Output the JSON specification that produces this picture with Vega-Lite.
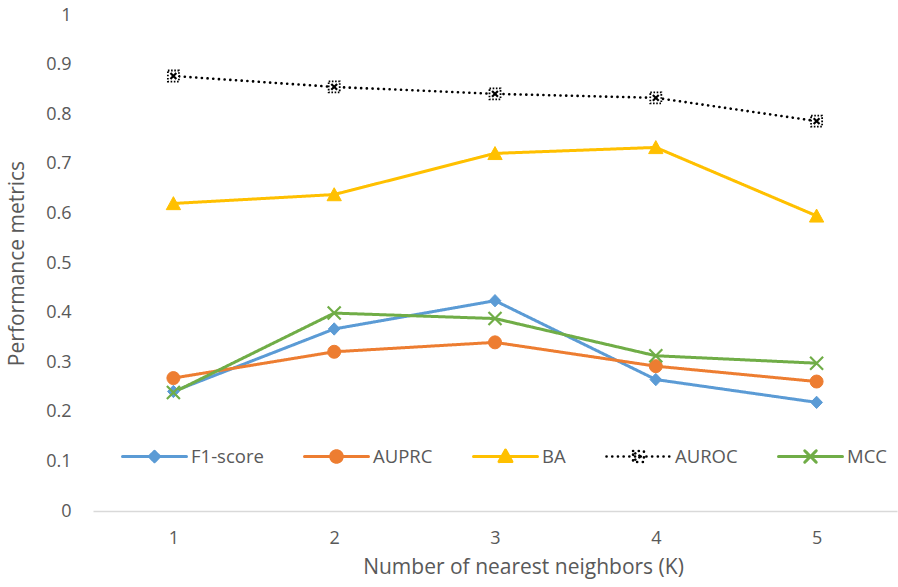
{
  "$schema": "https://vega.github.io/schema/vega-lite/v6.json",
  "width": 804,
  "height": 496,
  "autosize": {"type": "none"},
  "padding": {"left": 93, "top": 15, "right": 1, "bottom": 76},
  "background": "white",
  "config": {
    "view": {"stroke": null},
    "font": "Open Sans",
    "axis": {"labelColor": "#595959", "titleColor": "#595959", "labelFont": "Open Sans", "titleFont": "Open Sans", "grid": false, "ticks": false, "titleFontWeight": "normal"}
  },
  "data": {
    "values": [
      {"series": "F1-score", "k": "1", "value": 0.241},
      {"series": "F1-score", "k": "2", "value": 0.367},
      {"series": "F1-score", "k": "3", "value": 0.424},
      {"series": "F1-score", "k": "4", "value": 0.265},
      {"series": "F1-score", "k": "5", "value": 0.219},
      {"series": "AUPRC", "k": "1", "value": 0.268},
      {"series": "AUPRC", "k": "2", "value": 0.321},
      {"series": "AUPRC", "k": "3", "value": 0.340},
      {"series": "AUPRC", "k": "4", "value": 0.292},
      {"series": "AUPRC", "k": "5", "value": 0.261},
      {"series": "BA", "k": "1", "value": 0.620},
      {"series": "BA", "k": "2", "value": 0.638},
      {"series": "BA", "k": "3", "value": 0.721},
      {"series": "BA", "k": "4", "value": 0.733},
      {"series": "BA", "k": "5", "value": 0.595},
      {"series": "AUROC", "k": "1", "value": 0.877},
      {"series": "AUROC", "k": "2", "value": 0.855},
      {"series": "AUROC", "k": "3", "value": 0.841},
      {"series": "AUROC", "k": "4", "value": 0.833},
      {"series": "AUROC", "k": "5", "value": 0.786},
      {"series": "MCC", "k": "1", "value": 0.239},
      {"series": "MCC", "k": "2", "value": 0.399},
      {"series": "MCC", "k": "3", "value": 0.388},
      {"series": "MCC", "k": "4", "value": 0.313},
      {"series": "MCC", "k": "5", "value": 0.298}
    ]
  },
  "encoding": {
    "x": {
      "field": "k", "type": "ordinal",
      "scale": {"padding": 0.5},
      "axis": {
        "title": "Number of nearest neighbors (K)",
        "labelAngle": 0, "domainColor": "#d9d9d9", "domainWidth": 1.5,
        "labelPadding": 18, "titlePadding": 9, "labelFontSize": 18,
        "titleFontSize": 21, "titleX": 430
      }
    },
    "y": {
      "field": "value", "type": "quantitative",
      "scale": {"domain": [0, 1], "nice": false},
      "axis": {
        "values": [0, 0.1, 0.2, 0.3, 0.4, 0.5, 0.6, 0.7, 0.8, 0.9, 1],
        "format": "~g", "domain": false, "labelPadding": 22,
        "labelFontSize": 18, "title": "Performance metrics",
        "titleFontSize": 21, "titlePadding": 18
      }
    }
  },
  "layer": [
    {
      "mark": {"type": "line", "strokeCap": "round", "strokeJoin": "round"},
      "encoding": {
        "color": {
          "field": "series", "type": "nominal",
          "scale": {"domain": ["F1-score", "AUPRC", "BA", "AUROC", "MCC"], "range": ["#5B9BD5", "#ED7D31", "#FFC000", "#000000", "#70AD47"]},
          "legend": {
            "orient": "none", "legendX": 28, "legendY": 408, "direction": "horizontal",
            "columns": 5, "title": null, "symbolSize": 4096, "symbolStrokeWidth": 3,
            "labelFontSize": 18.5, "labelColor": "#595959", "labelFont": "Open Sans",
            "labelOffset": 3, "columnPadding": 39, "gridAlign": "none", "padding": 0,
            "encode": {
              "symbols": {
                "update": {
                  "shape": {"signal": "datum.value === 'F1-score' ? 'M-1,0L1,0M0,-0.16L0.16,0L0,0.16L-0.16,0Z' : datum.value === 'AUPRC' ? 'M-1,0L1,0M-0.18,0A0.18,0.18,0,1,1,0.18,0A0.18,0.18,0,1,1,-0.18,0Z' : datum.value === 'BA' ? 'M-1,0L1,0M0,-0.2L0.2,0.16L-0.2,0.16Z' : datum.value === 'AUROC' ? 'M-1,0L1,0M-0.17,-0.17L0.17,-0.17L0.17,0.17L-0.17,0.17ZM-0.1,-0.1L0.1,0.1M-0.1,0.1L0.1,-0.1' : 'M-1,0L1,0M-0.18,-0.18L0.18,0.18M-0.18,0.18L0.18,-0.18'"},
                  "fill": {"signal": "datum.value === 'F1-score' ? '#5B9BD5' : datum.value === 'AUPRC' ? '#ED7D31' : datum.value === 'BA' ? '#FFC000' : datum.value === 'AUROC' ? '#ffffff' : 'transparent'"},
                  "strokeDash": {"signal": "datum.value === 'AUROC' ? [0.1, 5.4] : [1, 0]"},
                  "strokeWidth": {"signal": "datum.value === 'AUROC' ? 2.6 : 3"},
                  "strokeCap": {"value": "round"},
                  "strokeJoin": {"value": "round"},
                  "opacity": {"value": 1}
                }
              }
            }
          }
        },
        "strokeDash": {
          "field": "series", "type": "nominal",
          "scale": {"domain": ["F1-score", "AUPRC", "BA", "AUROC", "MCC"], "range": [[1, 0], [1, 0], [1, 0], [0.1, 5.6], [1, 0]]},
          "legend": null
        },
        "strokeWidth": {
          "field": "series", "type": "nominal",
          "scale": {"type": "ordinal", "domain": ["F1-score", "AUPRC", "BA", "AUROC", "MCC"], "range": [3, 3, 3, 2.6, 3]},
          "legend": null
        }
      }
    },
    {
      "transform": [{"filter": {"field": "series", "equal": "F1-score"}}],
      "mark": {"type": "point", "shape": "M0,-0.95L0.9,0L0,0.95L-0.9,0Z", "size": 169, "filled": true, "fill": "#5B9BD5", "stroke": "#5B9BD5", "strokeWidth": 1, "opacity": 1}
    },
    {
      "transform": [{"filter": {"field": "series", "equal": "AUPRC"}}],
      "mark": {"type": "point", "shape": "circle", "size": 169, "filled": true, "fill": "#ED7D31", "stroke": "#ED7D31", "strokeWidth": 1, "opacity": 1}
    },
    {
      "transform": [{"filter": {"field": "series", "equal": "BA"}}],
      "mark": {"type": "point", "shape": "M0,-1.05L1.1,0.95L-1.1,0.95Z", "size": 169, "filled": true, "fill": "#FFC000", "stroke": "#FFC000", "strokeWidth": 1, "opacity": 1}
    },
    {
      "transform": [{"filter": {"field": "series", "equal": "AUROC"}}],
      "mark": {"type": "point", "shape": "M-0.85,-0.85L0.85,-0.85L0.85,0.85L-0.85,0.85Z", "size": 169, "filled": true, "fill": "#ffffff", "stroke": "#000000", "strokeWidth": 1.8, "strokeDash": [1.6, 1.6], "opacity": 1}
    },
    {
      "transform": [{"filter": {"field": "series", "equal": "AUROC"}}],
      "mark": {"type": "point", "shape": "M-0.45,-0.45L0.45,0.45M-0.45,0.45L0.45,-0.45", "size": 169, "filled": false, "stroke": "#000000", "strokeWidth": 2.2, "opacity": 1}
    },
    {
      "transform": [{"filter": {"field": "series", "equal": "MCC"}}],
      "mark": {"type": "point", "shape": "M-1,-1L1,1M-1,1L1,-1", "size": 169, "filled": false, "stroke": "#70AD47", "strokeWidth": 2.2, "opacity": 1}
    }
  ]
}
